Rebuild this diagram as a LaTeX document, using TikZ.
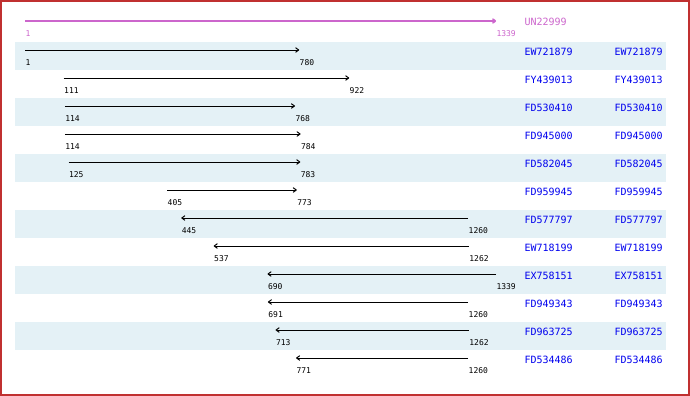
\documentclass[tikz,border=0pt]{standalone}
\usepackage{fontspec}
\setmonofont{DejaVu Sans Mono}
\usetikzlibrary{arrows.meta}

\definecolor{bandcol}{RGB}{228,241,246}
\definecolor{namecol}{RGB}{0,0,238}
\definecolor{querycol}{RGB}{204,102,204}
\definecolor{framecol}{RGB}{192,48,48}

\tikzset{every picture/.style={line width=0.75pt}}
\tikzset{
  band/.style={fill=bandcol,draw=none},
  hit/.style={-{To[length=3pt,width=4pt]},black},
  numlbl/.style={anchor=west,inner sep=0pt,font=\ttfamily\fontsize{6}{6}\selectfont},
  seqname/.style={anchor=west,inner sep=0pt,text=namecol,font=\ttfamily\fontsize{7.5}{7.5}\selectfont}
}

\begin{document}
\begin{tikzpicture}[x=0.75pt,y=0.75pt,yscale=-1,xscale=1]
		\useasboundingbox (0,0) rectangle (690,396);

		%shaded rows
		\fill [band] (15,42) rectangle (666,70);
		\fill [band] (15,98) rectangle (666,126);
		\fill [band] (15,154) rectangle (666,182);
		\fill [band] (15,210) rectangle (666,238);
		\fill [band] (15,266) rectangle (666,294);
		\fill [band] (15,322) rectangle (666,350);

		%query
		\coordinate (qs) at (25,21);
		\coordinate (qe) at (496,21);
		\draw [hit,color=querycol,line width=1.5pt] (qs) -- (qe) ;
		\node [numlbl,text=querycol] (qsl) at (25,34) {1};
		\node [numlbl,text=querycol] (qel) at (496,34) {1339};
		\node [seqname,text=querycol] (qname) at (524,22) {UN22999};

		%hits
		\coordinate (s1) at (25,50);    \coordinate (e1) at (299.2,50);
		\coordinate (s2) at (63.7,78);  \coordinate (e2) at (349.2,78);
		\coordinate (s3) at (64.8,106); \coordinate (e3) at (295.0,106);
		\coordinate (s4) at (64.8,134); \coordinate (e4) at (300.6,134);
		\coordinate (s5) at (68.6,162); \coordinate (e5) at (300.3,162);
		\coordinate (s6) at (167.2,190); \coordinate (e6) at (296.8,190);
		\coordinate (s7) at (181.3,218); \coordinate (e7) at (468.2,218);
		\coordinate (s8) at (213.7,246); \coordinate (e8) at (468.9,246);
		\coordinate (s9) at (267.5,274); \coordinate (e9) at (496,274);
		\coordinate (s10) at (267.9,302); \coordinate (e10) at (468.2,302);
		\coordinate (s11) at (275.6,330); \coordinate (e11) at (468.9,330);
		\coordinate (s12) at (296.1,358); \coordinate (e12) at (468.2,358);

		\draw [hit] (s1) -- (e1) ;
		\draw [hit] (s2) -- (e2) ;
		\draw [hit] (s3) -- (e3) ;
		\draw [hit] (s4) -- (e4) ;
		\draw [hit] (s5) -- (e5) ;
		\draw [hit] (s6) -- (e6) ;
		\draw [hit] (e7) -- (s7) ;
		\draw [hit] (e8) -- (s8) ;
		\draw [hit] (e9) -- (s9) ;
		\draw [hit] (e10) -- (s10) ;
		\draw [hit] (e11) -- (s11) ;
		\draw [hit] (e12) -- (s12) ;

		\node [numlbl] (sl1) at (25,63) {1};      \node [numlbl] (el1) at (299.2,63) {780};
		\node [numlbl] (sl2) at (63.7,91) {111};  \node [numlbl] (el2) at (349.2,91) {922};
		\node [numlbl] (sl3) at (64.8,119) {114}; \node [numlbl] (el3) at (295.0,119) {768};
		\node [numlbl] (sl4) at (64.8,147) {114}; \node [numlbl] (el4) at (300.6,147) {784};
		\node [numlbl] (sl5) at (68.6,175) {125}; \node [numlbl] (el5) at (300.3,175) {783};
		\node [numlbl] (sl6) at (167.2,203) {405}; \node [numlbl] (el6) at (296.8,203) {773};
		\node [numlbl] (sl7) at (181.3,231) {445}; \node [numlbl] (el7) at (468.2,231) {1260};
		\node [numlbl] (sl8) at (213.7,259) {537}; \node [numlbl] (el8) at (468.9,259) {1262};
		\node [numlbl] (sl9) at (267.5,287) {690}; \node [numlbl] (el9) at (496,287) {1339};
		\node [numlbl] (sl10) at (267.9,315) {691}; \node [numlbl] (el10) at (468.2,315) {1260};
		\node [numlbl] (sl11) at (275.6,343) {713}; \node [numlbl] (el11) at (468.9,343) {1262};
		\node [numlbl] (sl12) at (296.1,371) {771}; \node [numlbl] (el12) at (468.2,371) {1260};

		%names
		\node [seqname] (na1) at (524,52) {EW721879};   \node [seqname] (nb1) at (614,52) {EW721879};
		\node [seqname] (na2) at (524,80) {FY439013};   \node [seqname] (nb2) at (614,80) {FY439013};
		\node [seqname] (na3) at (524,108) {FD530410};  \node [seqname] (nb3) at (614,108) {FD530410};
		\node [seqname] (na4) at (524,136) {FD945000};  \node [seqname] (nb4) at (614,136) {FD945000};
		\node [seqname] (na5) at (524,164) {FD582045};  \node [seqname] (nb5) at (614,164) {FD582045};
		\node [seqname] (na6) at (524,192) {FD959945};  \node [seqname] (nb6) at (614,192) {FD959945};
		\node [seqname] (na7) at (524,220) {FD577797};  \node [seqname] (nb7) at (614,220) {FD577797};
		\node [seqname] (na8) at (524,248) {EW718199};  \node [seqname] (nb8) at (614,248) {EW718199};
		\node [seqname] (na9) at (524,276) {EX758151};  \node [seqname] (nb9) at (614,276) {EX758151};
		\node [seqname] (na10) at (524,304) {FD949343}; \node [seqname] (nb10) at (614,304) {FD949343};
		\node [seqname] (na11) at (524,332) {FD963725}; \node [seqname] (nb11) at (614,332) {FD963725};
		\node [seqname] (na12) at (524,360) {FD534486}; \node [seqname] (nb12) at (614,360) {FD534486};

		%frame
		\draw [framecol,line width=1.5pt] (1,1) rectangle (689,395) ;

\end{tikzpicture}
\end{document}
